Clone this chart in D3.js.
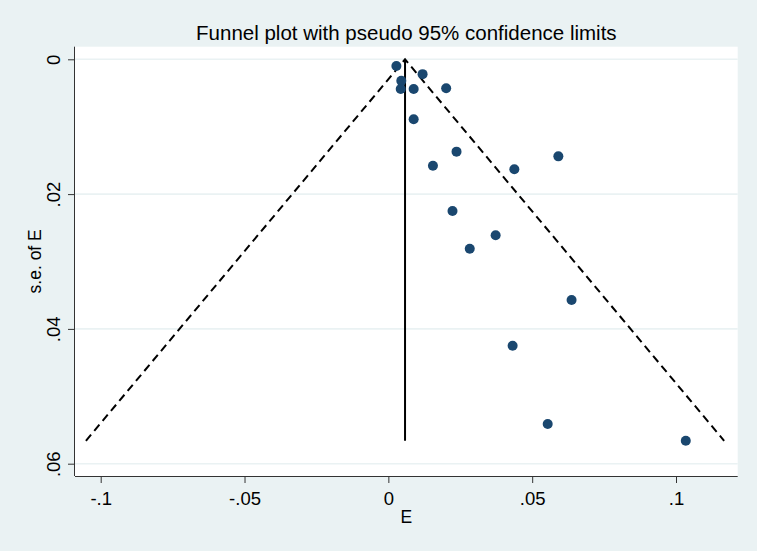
<!DOCTYPE html>
<html>
<head>
<meta charset="UTF-8">
<title>Funnel plot</title>
<script src="https://cdn.jsdelivr.net/npm/d3@7"></script>
<style>
  body { margin: 0; background: #eaf2f3; }
  svg { display: block; font-family: "Liberation Sans", Arial, sans-serif; }
</style>
</head>
<body>
<script>
// study effects (E) and their standard errors
var effects = [0.0028, 0.0045, 0.0043, 0.0088, 0.0119, 0.0201, 0.0088, 0.0155, 0.0237,
               0.0438, 0.0591, 0.0223, 0.0373, 0.0283, 0.0637, 0.0432, 0.0554, 0.1034];
var stdErrs = [0.0010, 0.0032, 0.0044, 0.0044, 0.0022, 0.0043, 0.0089, 0.0158, 0.0137,
               0.0163, 0.0144, 0.0225, 0.0261, 0.0281, 0.0357, 0.0425, 0.0541, 0.0566];
var pooled = 0.0058;
var xTicks = [-0.1, -0.05, 0, 0.05, 0.1];
var xTickLabels = ["-.1", "-.05", "0", ".05", ".1"];
var yTicks = [0, 0.02, 0.04, 0.06];
var yTickLabels = ["0", ".02", ".04", ".06"];

var width = 757, height = 551;
var svg = d3.select("body").append("svg")
    .attr("width", width)
    .attr("height", height);

// plot region edges
var plot = {left: 75, right: 737.7, top: 46.7, bottom: 476};

var x = d3.scaleLinear().domain([-0.1, 0.1]).range([100.7, 676]);
var y = d3.scaleLinear().domain([0, 0.06]).range([59.3, 463.7]);

svg.append("rect")
    .attr("width", width).attr("height", height)
    .attr("fill", "#eaf2f3");

svg.append("rect")
    .attr("x", plot.left).attr("y", plot.top)
    .attr("width", plot.right - plot.left)
    .attr("height", plot.bottom - plot.top)
    .attr("fill", "#ffffff");

// horizontal gridlines
svg.selectAll("line.grid").data(yTicks).enter().append("line")
    .attr("class", "grid")
    .attr("x1", plot.left).attr("x2", plot.right)
    .attr("y1", function(d){ return y(d); })
    .attr("y2", function(d){ return y(d); })
    .attr("stroke", "#eaf2f3")
    .attr("stroke-width", 1.6);

// x axis
var xAxis = d3.axisBottom(x).tickValues(xTicks).tickSize(7)
    .tickFormat(function(d, i){ return xTickLabels[i]; });
var gx = svg.append("g").attr("transform", "translate(0," + plot.bottom + ")").call(xAxis);
gx.select(".domain").attr("d", "M" + plot.left + ",0.5H" + plot.right)
    .attr("stroke", "#333").attr("stroke-width", 1);
gx.selectAll(".tick line").attr("stroke", "#333");
gx.selectAll(".tick text").attr("font-size", 18.5).attr("fill", "#000")
    .attr("font-family", "Liberation Sans, Arial, sans-serif").attr("dy", "1.05em");

// y axis
var yAxis = d3.axisLeft(y).tickValues(yTicks).tickSize(7)
    .tickFormat(function(d, i){ return yTickLabels[i]; });
var gy = svg.append("g").attr("transform", "translate(" + plot.left + ",0)").call(yAxis);
gy.select(".domain").attr("d", "M-0.5," + plot.top + "V" + plot.bottom)
    .attr("stroke", "#333").attr("stroke-width", 1);
gy.selectAll(".tick line").attr("stroke", "#333");
gy.selectAll(".tick text")
    .attr("font-size", 18.5).attr("fill", "#000")
    .attr("font-family", "Liberation Sans, Arial, sans-serif")
    .attr("x", null).attr("dy", null)
    .attr("text-anchor", "middle")
    .attr("transform", "translate(-15,0) rotate(-90)");

// funnel limits
var seMax = d3.max(stdErrs);
var funnel = [[pooled - 1.96 * seMax, seMax], [pooled, 0], [pooled + 1.96 * seMax, seMax]];
svg.append("path")
    .attr("d", d3.line().x(function(d){ return x(d[0]); }).y(function(d){ return y(d[1]); })(funnel))
    .attr("fill", "none")
    .attr("stroke", "#000")
    .attr("stroke-width", 2)
    .attr("stroke-dasharray", "8,5");

// pooled estimate
svg.append("line")
    .attr("x1", x(pooled)).attr("x2", x(pooled))
    .attr("y1", y(0)).attr("y2", y(seMax))
    .attr("stroke", "#000").attr("stroke-width", 2);

// studies
svg.selectAll("circle.study").data(effects).enter().append("circle")
    .attr("class", "study")
    .attr("cx", function(d){ return x(d); })
    .attr("cy", function(d, i){ return y(stdErrs[i]); })
    .attr("r", 5)
    .attr("fill", "#1a476f");

// titles
svg.append("text")
    .attr("x", (plot.left + plot.right) / 2).attr("y", 40)
    .attr("text-anchor", "middle")
    .attr("font-size", 20.5)
    .text("Funnel plot with pseudo 95% confidence limits");

svg.append("text")
    .attr("x", (plot.left + plot.right) / 2).attr("y", 523)
    .attr("text-anchor", "middle")
    .attr("font-size", 17.5)
    .text("E");

svg.append("text")
    .attr("transform", "translate(41," + (plot.top + plot.bottom) / 2 + ") rotate(-90)")
    .attr("text-anchor", "middle")
    .attr("font-size", 17.5)
    .text("s.e. of E");
</script>
</body>
</html>
